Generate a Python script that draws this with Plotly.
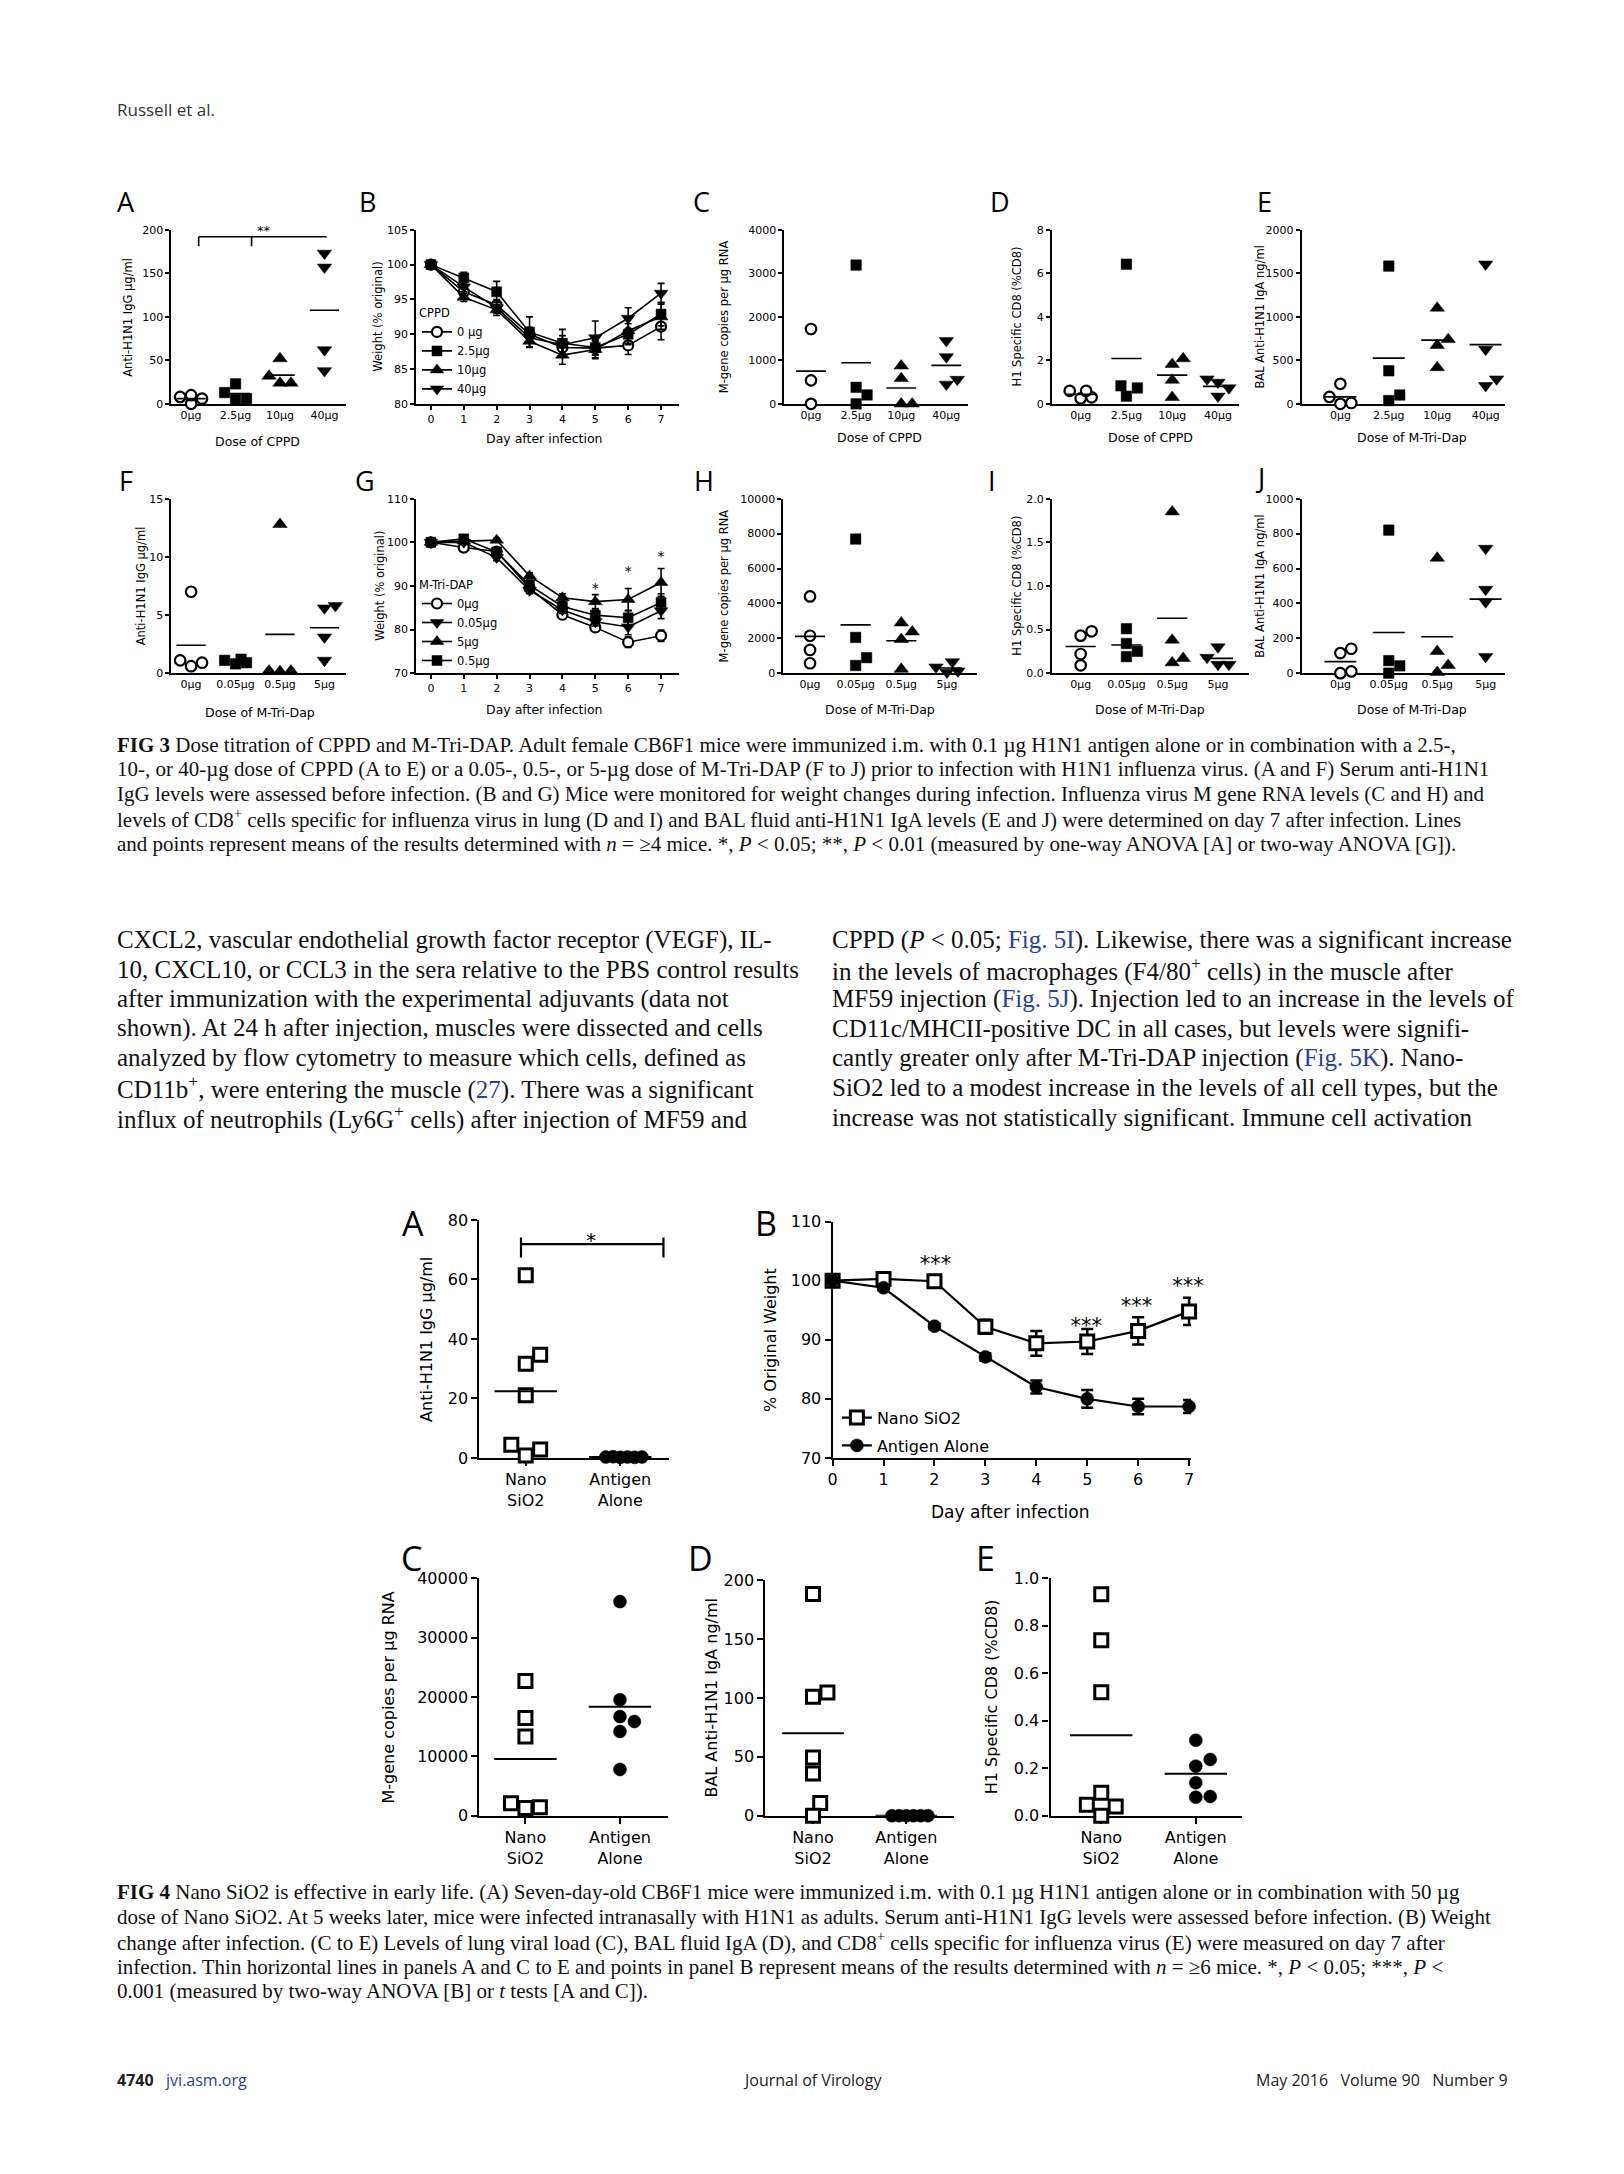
import numpy as np
import plotly.graph_objects as go

# page geometry: the browser keeps its default 8px body margin, so the figure is
# 16px smaller than the page and every page coordinate is shifted by 8px.
PAGE_W, PAGE_H = 1624, 2174
OFF = 8
W, H = PAGE_W - 2 * OFF, PAGE_H - 2 * OFF
CH = "DejaVu Sans"
SERIF = "Liberation Serif"
HS = "Open Sans"
BLUE = "#2b3f9e"

# ---------------- data ----------------
cppd_doses = ["0µg", "2.5µg", "10µg", "40µg"]
mtd_doses = ["0µg", "0.05µg", "0.5µg", "5µg"]
days = [0, 1, 2, 3, 4, 5, 6, 7]
f4_groups = ["Nano<br>SiO2", "Antigen<br>Alone"]

f3a_igg = [[6, 0, 8, 10], [13, 5, 6, 23], [52, 32, 24, 24], [157, 173, 62, 38]]
f3c_mgene = [[1720, 540, 0], [3190, 380, 205, 0], [873, 584, 0, 0], [1450, 1080, 450, 560]]
f3d_cd8 = [[0.6, 0.3, 0.25, 0.6], [6.42, 0.83, 0.73, 0.35], [1.82, 2.08, 1.09, 0.30], [0.99, 1.14, 0.73, 0.35]]
f3e_iga = [[230, 80, 0, 10], [1583, 380, 102, 38], [1101, 740, 672, 417], [1605, 626, 209, 285]]
f3f_igg = [[7.0, 1.1, 0.9, 0.6], [1.2, 0.9, 1.1, 0.8], [12.8, 0.15, 0.2, 0.2], [5.6, 5.8, 3.1, 1.1]]
f3h_mgene = [[4400, 2145, 1330, 570], [7690, 2050, 890, 440], [2370, 2885, 1940, 230], [350, 120, 650, 50]]
f3i_cd8 = [[0.48, 0.43, 0.22, 0.09], [0.51, 0.34, 0.25, 0.19], [1.85, 0.38, 0.12, 0.17], [0.30, 0.18, 0.10, 0.10]]
f3j_iga = [[140, 115, 0, 10], [820, 72, 42, 0], [660, 125, 45, 5], [715, 480, 408, 95]]

f3b_names = ["0 µg", "2.5µg", "10µg", "40µg"]
f3b_mean = [[100, 96.1, 94.2, 90.0, 88.1, 88.0, 88.4, 91.1],
            [100, 98.1, 96.1, 90.3, 88.7, 88.1, 90.0, 92.9],
            [100, 95.3, 93.5, 89.0, 87.0, 87.8, 90.5, 92.5],
            [100, 96.8, 93.8, 89.5, 88.5, 89.5, 92.3, 95.9]]
f3b_sem = [[0.2, 0.8, 0.8, 1.0, 1.2, 1.0, 1.3, 1.9],
           [0.2, 0.8, 1.5, 2.2, 2.0, 1.5, 1.5, 1.7],
           [0.2, 0.6, 0.8, 0.8, 1.3, 1.3, 1.8, 1.8],
           [0.2, 0.7, 0.8, 1.3, 1.3, 2.4, 1.5, 1.4]]

f3g_names = ["0µg", "0.05µg", "5µg", "0.5µg"]
f3g_mean = [[100, 98.8, 97.9, 89.5, 83.4, 80.5, 77.1, 78.6],
            [100, 100.0, 96.5, 89.0, 84.5, 81.8, 80.6, 84.3],
            [100, 100.3, 100.5, 92.3, 87.3, 86.4, 86.9, 90.8],
            [100, 100.8, 97.8, 90.2, 85.3, 83.3, 82.7, 86.2]]
f3g_sem = [[0.2, 0.5, 0.6, 0.8, 0.8, 0.8, 1.2, 1.3],
           [0.2, 0.5, 0.7, 0.8, 0.8, 1.0, 1.8, 1.8],
           [0.2, 0.3, 0.4, 0.7, 0.9, 1.6, 2.5, 3.2],
           [0.2, 0.6, 0.6, 0.8, 0.9, 1.2, 1.6, 2.0]]

f4a_nano = [61.4, 31.7, 34.7, 21.1, 4.4, 0.8, 2.8]
f4a_antigen = [0.3, 0.2, 0.3, 0.2, 0.4, 0.3]
f4b_names = ["Nano SiO2", "Antigen Alone"]
f4b_nano = [100, 100.3, 99.9, 92.2, 89.4, 89.7, 91.5, 94.8]
f4b_nano_sem = [0.3, 0.5, 0.6, 1.2, 2.1, 2.1, 2.3, 2.3]
f4b_antigen = [100, 98.8, 92.3, 87.1, 82.0, 80.0, 78.7, 78.7]
f4b_antigen_sem = [0.2, 0.4, 0.5, 0.6, 1.1, 1.5, 1.3, 1.1]
f4c_nano = [22730, 16490, 13370, 2117, 1281, 1448]
f4c_antigen = [36100, 19550, 15880, 16710, 14200, 7800]
f4d_nano = [188.2, 101, 104.6, 49.4, 35.9, 10.7, 0]
f4d_antigen = [0, 0, 0, 0, 0, 0]
f4e_nano = [0.933, 0.74, 0.52, 0.097, 0.046, 0.039, 0]
f4e_antigen = [0.318, 0.237, 0.209, 0.139, 0.078, 0.081]

# ---------------- helpers ----------------
fig = go.Figure()
lay = dict(width=W, height=H, margin=dict(l=0, r=0, t=0, b=0),
           paper_bgcolor="white", plot_bgcolor="rgba(0,0,0,0)", showlegend=True)
ann = []
shp = []
nax = [0]


def px(x):
    return (x - OFF) / W


def py(y):
    return 1 - (y - OFF) / H


def add_axes(x0, x1, yt, yb, xr, yr, xtv, xtt, ytv, ytt, fs, lw, tl, xticks=True):
    nax[0] += 1
    s = "" if nax[0] == 1 else str(nax[0])
    common = dict(showline=True, linecolor="black", linewidth=lw, showgrid=False,
                  zeroline=False, ticks="outside", ticklen=tl, tickwidth=lw,
                  tickcolor="black", tickfont=dict(family=CH, size=fs, color="black"),
                  fixedrange=True, layer="below traces", tickmode="array")
    xa = dict(common, domain=[px(x0), px(x1)], range=xr, anchor="y" + s,
              tickvals=xtv, ticktext=xtt)
    if not xticks:
        xa["ticks"] = ""
    lay["xaxis" + s] = xa
    lay["yaxis" + s] = dict(common, domain=[py(yb), py(yt)], range=yr,
                            anchor="x" + s, tickvals=ytv, ticktext=ytt)
    return "x" + s, "y" + s


def cat_range(axis_px, end_px, c0, c1, n):
    sp = (c1 - c0) / (n - 1)
    return [(axis_px - c0) / sp, (n - 1) + (end_px - c1) / sp], sp


def swarm(vals, center, ppu, ppc, diam, step, maxhalf):
    v = np.asarray(vals, float)
    order = np.argsort(v, kind="stable")
    cands = [0.0]
    for k in range(1, int(maxhalf // step) + 1):
        cands += [k * step, -k * step]
    placed = []
    xs = np.zeros(len(v))
    for idx in order:
        y = v[idx] * ppu
        best = None
        fb, fbd = 0.0, -1.0
        for c in cands:
            d = min([np.hypot(c - a, y - b) for a, b in placed], default=1e9)
            if d >= diam * 0.98:
                best = c
                break
            if d > fbd + 1e-9:
                fb, fbd = c, d
        if best is None:
            best = fb
        placed.append((best, y))
        xs[idx] = center + best / ppc
    return xs


def cat_scatter(xr_, yr_, groups, syms, fills, size, mlw, ppu, ppc, diam, step, maxhalf,
                mhalf, meanw):
    for i, vals in enumerate(groups):
        xs = swarm(vals, i, ppu, ppc, diam, step, maxhalf)
        sz = size * (1.2 if "triangle" in syms[i] else 1.0)
        fig.add_trace(go.Scatter(
            x=xs, y=vals, xaxis=xr_, yaxis=yr_, mode="markers",
            marker=dict(symbol=syms[i], size=sz, color=fills[i],
                        line=dict(color="black", width=mlw if fills[i] == "white" else 0.5)),
            cliponaxis=False, showlegend=False, hoverinfo="skip"))
        m = float(np.mean(vals))
        fig.add_trace(go.Scatter(
            x=[i - mhalf, i + mhalf], y=[m, m], xaxis=xr_, yaxis=yr_, mode="lines",
            line=dict(color="black", width=meanw), cliponaxis=False,
            showlegend=False, hoverinfo="skip"))


def text(x, y, s, size, family=CH, xanchor="center", yanchor="middle", angle=0,
         color="black", xref="paper", yref="paper", yshift=0):
    if xref == "paper":
        x = px(x)
    if yref == "paper":
        y = py(y)
    ann.append(dict(x=x, y=y, xref=xref, yref=yref, text=s, showarrow=False,
                    xanchor=xanchor, yanchor=yanchor, textangle=angle, yshift=yshift,
                    font=dict(family=family, size=size, color=color)))


def stars(xref, yref, xs, ys, s, size, drop_px, ppu):
    # significance marks drawn as a text trace in data coordinates
    fig.add_trace(go.Scatter(
        x=xs, y=[v - drop_px / ppu for v in ys], xaxis=xref, yaxis=yref, mode="text",
        text=[s] * len(xs), textposition="middle center",
        textfont=dict(family=CH, size=size, color="black"),
        cliponaxis=False, showlegend=False, hoverinfo="skip"))


def seg(xref, yref, x0, y0, x1, y1, w):
    shp.append(dict(type="line", xref=xref, yref=yref, x0=x0, y0=y0, x1=x1, y1=y1,
                    line=dict(color="black", width=w)))


def ticks_txt(vals, fmt="{:g}"):
    return [fmt.format(v) for v in vals]


# ---------------- FIG 3 ----------------
R1 = (222.7, 398.3)
R2 = (494.0, 670.0)
FS3 = 11
LW3 = 1.5
MS3 = 10.5
sym3 = ["circle", "square", "triangle-up", "triangle-down"]
fill3 = ["white", "black", "black", "black"]


def fig3_cat(geom, row, groups, ymax, ytv, ytt, labels):
    ax0, ax1, c0, c1 = geom
    xr, sp = cat_range(ax0, ax1, c0, c1, 4)
    xa, ya = add_axes(ax0, ax1, row[0], row[1], xr, [0, ymax], list(range(4)), labels,
                      ytv, ytt, FS3, LW3, 4, xticks=False)
    ppu = (row[1] - row[0]) / ymax
    cat_scatter(xa, ya, groups, sym3, fill3, MS3, 2.2, ppu, sp, 11, 5.5, 16.5, 0.33, 1.6)
    return xa, ya, ppu


GA = (167, 343, 187, 321)
GC = (783, 968, 810, 946)
GD = (1052, 1240, 1081, 1219)
GE = (1303, 1507, 1342, 1488)

# A
xa, ya, ppa = fig3_cat(GA, R1, f3a_igg, 200, [0, 50, 100, 150, 200],
                       ticks_txt([0, 50, 100, 150, 200]), cppd_doses)
seg(xa, ya, 0.17, 192, 3.05, 192, 1.6)
seg(xa, ya, 0.17, 192, 0.17, 181, 1.6)
seg(xa, ya, 1.36, 192, 1.36, 181, 1.6)
stars(xa, ya, [1.63], [200], "**", 13, 2, ppa)
# C
fig3_cat(GC, R1, f3c_mgene, 4000, [0, 1000, 2000, 3000, 4000],
         ticks_txt([0, 1000, 2000, 3000, 4000]), cppd_doses)
# D
fig3_cat(GD, R1, f3d_cd8, 8, [0, 2, 4, 6, 8], ticks_txt([0, 2, 4, 6, 8]), cppd_doses)
# E
fig3_cat(GE, R1, f3e_iga, 2000, [0, 500, 1000, 1500, 2000],
         ticks_txt([0, 500, 1000, 1500, 2000]), cppd_doses)
# F
fig3_cat(GA, R2, f3f_igg, 15, [0, 5, 10, 15], ticks_txt([0, 5, 10, 15]), mtd_doses)
# H
fig3_cat((782, 977, 809, 946.6), R2, f3h_mgene, 10000, [0, 2000, 4000, 6000, 8000, 10000],
         ticks_txt([0, 2000, 4000, 6000, 8000, 10000]), mtd_doses)
# I
fig3_cat((1052, 1250, 1081, 1219), R2, f3i_cd8, 2.0, [0, 0.5, 1.0, 1.5, 2.0],
         ticks_txt([0, 0.5, 1.0, 1.5, 2.0], "{:.1f}"), mtd_doses)
# J
fig3_cat(GE, R2, f3j_iga, 1000, [0, 200, 400, 600, 800, 1000],
         ticks_txt([0, 200, 400, 600, 800, 1000]), mtd_doses)


def weight_panel(row, yr, ytv, names, means, sems, syms, fills, legend):
    xr, sp = cat_range(413, 677, 428, 659.3, 8)
    xa, ya = add_axes(413, 677, row[0], row[1], xr, yr, days, [str(d) for d in days],
                      ytv, ticks_txt(ytv), FS3, LW3, 4)
    for nm, m, e, s, f in zip(names, means, sems, syms, fills):
        fig.add_trace(go.Scatter(
            x=days, y=m, xaxis=xa, yaxis=ya, mode="lines+markers", name=nm,
            legend=legend, legendgroup=legend + nm,
            error_y=dict(type="data", array=e, color="black", thickness=1.6, width=3.5),
            line=dict(color="black", width=1.6),
            marker=dict(symbol=s, size=10 * (1.2 if "triangle" in s else 1), color=f,
                        line=dict(color="black", width=2.2 if f == "white" else 0.5)),
            cliponaxis=False, hoverinfo="skip"))
    return xa, ya, (row[1] - row[0]) / (yr[1] - yr[0])


# B
weight_panel(R1, [80, 105], [80, 85, 90, 95, 100, 105], f3b_names, f3b_mean, f3b_sem,
             sym3, fill3, "legend")
# G
sym_g = ["circle", "triangle-down", "triangle-up", "square"]
fill_g = ["white", "black", "black", "black"]
xg, yg, ppg = weight_panel(R2, [70, 110], [70, 80, 90, 100, 110], f3g_names, f3g_mean,
                           f3g_sem, sym_g, fill_g, "legend2")
stars(xg, yg, [5, 6, 7], [89.9, 93.7, 97.3], "*", 14, 3, ppg)

leg3 = dict(xanchor="left", yanchor="top", bgcolor="rgba(0,0,0,0)", borderwidth=0,
            font=dict(family=CH, size=11.5, color="black"), itemwidth=30,
            tracegroupgap=0, traceorder="grouped")
lay["legend"] = dict(leg3, x=px(414), y=py(296),
                     title=dict(text="CPPD", font=dict(family=CH, size=11.5, color="black")))
lay["legend2"] = dict(leg3, x=px(414), y=py(570),
                      title=dict(text="M-Tri-DAP", font=dict(family=CH, size=11.5, color="black")))

# fig 3 letters and titles
for L, x, y in [("A", 121.5, 194), ("B", 364.7, 194), ("C", 699.6, 194), ("D", 1000, 194),
                ("E", 1266, 194), ("F", 121.5, 476), ("G", 362, 476), ("H", 702.4, 476),
                ("I", 991.4, 476), ("J", 1261, 473)]:
    text(x, y, L, 27, family=HS)

r1m = (R1[0] + R1[1]) / 2
r2m = (R2[0] + R2[1]) / 2
for s, x, y in [("Anti-H1N1 IgG µg/ml", 123.5, r1m), ("Weight (% original)", 374.6, r1m),
                ("M-gene copies per µg RNA", 722, r1m), ("H1 Specific CD8 (%CD8)", 1016.7, r1m),
                ("BAL Anti-H1N1 IgA ng/ml", 1261, r1m),
                ("Anti-H1N1 IgG µg/ml", 137, r2m), ("Weight (% original)", 376.6, r2m),
                ("M-gene copies per µg RNA", 722, r2m), ("H1 Specific CD8 (%CD8)", 1016.7, r2m),
                ("BAL Anti-H1N1 IgA ng/ml", 1261, r2m)]:
    text(x, y, s, 11.5, angle=-90)

for s, x, y in [("Dose of CPPD", 254, 436.7), ("Day after infection", 542.6, 433.3),
                ("Dose of CPPD", 879, 432.3), ("Dose of CPPD", 1151, 432.3),
                ("Dose of M-Tri-Dap", 1414, 432.3),
                ("Dose of M-Tri-Dap", 256, 709.3), ("Day after infection", 542.6, 706.7),
                ("Dose of M-Tri-Dap", 879, 706.7), ("Dose of M-Tri-Dap", 1151, 706.7),
                ("Dose of M-Tri-Dap", 1414, 706.7)]:
    text(x, y, s, 12.5)

# ---------------- FIG 4 ----------------
FS4 = 16
LW4 = 2.2
sym4 = ["square", "circle"]
fill4 = ["white", "black"]


def fig4_cat(geom, yt, yb, groups, ymax, ytv, ytt):
    ax0, ax1, c0, c1 = geom
    xr, sp = cat_range(ax0, ax1, c0, c1, 2)
    xa, ya = add_axes(ax0, ax1, yt, yb, xr, [0, ymax], [0, 1], f4_groups, ytv, ytt,
                      FS4, LW4, 6)
    ppu = (yb - yt) / ymax
    cat_scatter(xa, ya, groups, sym4, fill4, 13, 3, ppu, sp, 14.5, 7.25, 22, 0.33, 2)
    return xa, ya, ppu


# A
xa4, ya4, pp4a = fig4_cat((476.7, 667, 523.3, 618.3), 1221.7, 1461.7,
                          [f4a_nano, f4a_antigen], 80,
                          [0, 20, 40, 60, 80], ticks_txt([0, 20, 40, 60, 80]))
seg(xa4, ya4, -0.05, 71.9, 1.457, 71.9, 2.2)
seg(xa4, ya4, -0.05, 74.1, -0.05, 67.4, 2.2)
seg(xa4, ya4, 1.457, 74.1, 1.457, 67.4, 2.2)
stars(xa4, ya4, [0.69], [74.3], "*", 20, 5, pp4a)

# B
xb, yb_ = add_axes(831.7, 1192, 1223.3, 1461.7, [0, 7.04], [70, 110], days,
                   [str(d) for d in days], [70, 80, 90, 100, 110],
                   ticks_txt([70, 80, 90, 100, 110]), FS4, LW4, 6)
for nm, m, e, s, f in [(f4b_names[0], f4b_nano, f4b_nano_sem, "square", "white"),
                       (f4b_names[1], f4b_antigen, f4b_antigen_sem, "circle", "black")]:
    fig.add_trace(go.Scatter(
        x=days, y=m, xaxis=xb, yaxis=yb_, mode="lines+markers", name=nm,
        legend="legend3", legendgroup="l3" + nm,
        error_y=dict(type="data", array=e, color="black", thickness=2.5, width=6),
        line=dict(color="black", width=2.2),
        marker=dict(symbol=s, size=13, color=f,
                    line=dict(color="black", width=3 if f == "white" else 0.5)),
        cliponaxis=False, hoverinfo="skip"))
stars(xb, yb_, [2.02, 4.98, 5.97, 6.98], [103.4, 92.8, 96.2, 99.65], "***", 21, 5,
      (1461.7 - 1223.3) / 40)
lay["legend3"] = dict(xanchor="left", yanchor="top", bgcolor="rgba(0,0,0,0)", borderwidth=0,
                      font=dict(family=CH, size=16, color="black"), itemwidth=30,
                      tracegroupgap=4, traceorder="grouped", x=px(836), y=py(1404))

# C
fig4_cat((476.7, 666.6, 523, 618), 1583.3, 1822.7, [f4c_nano, f4c_antigen], 40000,
         [0, 10000, 20000, 30000, 40000], ticks_txt([0, 10000, 20000, 30000, 40000]))
# D
xd, yd, pp4d = fig4_cat((764.2, 953.6, 812, 905.8), 1585, 1822.7, [f4d_nano, f4d_antigen], 200,
                        [0, 50, 100, 150, 200], ticks_txt([0, 50, 100, 150, 200]))
seg(xd, yd, 0.01, 209, 1.10, 209, 2.2)
seg(xd, yd, 0.01, 216.8, 0.01, 200, 2.2)
seg(xd, yd, 1.10, 216.8, 1.10, 200, 2.2)
stars(xd, yd, [0.54], [211.5], "*", 20, 5, pp4d)
# E
fig4_cat((1050.7, 1243.3, 1101.7, 1196.7), 1583.3, 1822.7, [f4e_nano, f4e_antigen], 1.0,
         [0, 0.2, 0.4, 0.6, 0.8, 1.0], ticks_txt([0, 0.2, 0.4, 0.6, 0.8, 1.0], "{:.1f}"))

for L, x, y in [("A", 410, 1225), ("B", 765, 1225), ("C", 408.3, 1563), ("D", 699, 1563),
                ("E", 985, 1563)]:
    text(x, y, L, 34, family=HS)
for s, x, y in [("Anti-H1N1 IgG µg/ml", 424, 1341.7), ("% Original Weight", 770, 1342.5),
                ("M-gene copies per µg RNA", 385.3, 1703), ("BAL Anti-H1N1 IgA ng/ml", 710, 1704),
                ("H1 Specific CD8 (%CD8)", 991, 1703)]:
    text(x, y, s, 16, angle=-90)
text(1010, 1516.7, "Day after infection", 17)

# ---------------- page text ----------------
text(111, 101, "Russell et al.", 17, family=HS, xanchor="left", color="#333")

cap3 = [
    "<b>FIG 3</b> Dose titration of CPPD and M-Tri-DAP. Adult female CB6F1 mice were immunized i.m. with 0.1 µg H1N1 antigen alone or in combination with a 2.5-,",
    "10-, or 40-µg dose of CPPD (A to E) or a 0.05-, 0.5-, or 5-µg dose of M-Tri-DAP (F to J) prior to infection with H1N1 influenza virus. (A and F) Serum anti-H1N1",
    "IgG levels were assessed before infection. (B and G) Mice were monitored for weight changes during infection. Influenza virus M gene RNA levels (C and H) and",
    "levels of CD8<sup>+</sup> cells specific for influenza virus in lung (D and I) and BAL fluid anti-H1N1 IgA levels (E and J) were determined on day 7 after infection. Lines",
    "and points represent means of the results determined with <i>n</i> = ≥4 mice. *, <i>P</i> &lt; 0.05; **, <i>P</i> &lt; 0.01 (measured by one-way ANOVA [A] or two-way ANOVA [G]).",
]
for k, s in enumerate(cap3):
    text(111, 742 + 25 * k, s, 21, family=SERIF, xanchor="left", color="#111")


def bl(s):
    return "<span style='color:%s'>%s</span>" % (BLUE, s)


body_l = [
    "CXCL2, vascular endothelial growth factor receptor (VEGF), IL-",
    "10, CXCL10, or CCL3 in the sera relative to the PBS control results",
    "after immunization with the experimental adjuvants (data not",
    "shown). At 24 h after injection, muscles were dissected and cells",
    "analyzed by flow cytometry to measure which cells, defined as",
    "CD11b<sup>+</sup>, were entering the muscle (" + bl("27") + "). There was a significant",
    "influx of neutrophils (Ly6G<sup>+</sup> cells) after injection of MF59 and",
]
body_r = [
    "CPPD (<i>P</i> &lt; 0.05; " + bl("Fig. 5I") + "). Likewise, there was a significant increase",
    "in the levels of macrophages (F4/80<sup>+</sup> cells) in the muscle after",
    "MF59 injection (" + bl("Fig. 5J") + "). Injection led to an increase in the levels of",
    "CD11c/MHCII-positive DC in all cases, but levels were signifi-",
    "cantly greater only after M-Tri-DAP injection (" + bl("Fig. 5K") + "). Nano-",
    "SiO2 led to a modest increase in the levels of all cell types, but the",
    "increase was not statistically significant. Immune cell activation",
]
for k, s in enumerate(body_l):
    text(111, 939 + 29.8 * k, s, 25, family=SERIF, xanchor="left", color="#111")
for k, s in enumerate(body_r):
    text(829.5, 939 + 29.8 * k, s, 25, family=SERIF, xanchor="left", color="#111")

cap4 = [
    "<b>FIG 4</b> Nano SiO2 is effective in early life. (A) Seven-day-old CB6F1 mice were immunized i.m. with 0.1 µg H1N1 antigen alone or in combination with 50 µg",
    "dose of Nano SiO2. At 5 weeks later, mice were infected intranasally with H1N1 as adults. Serum anti-H1N1 IgG levels were assessed before infection. (B) Weight",
    "change after infection. (C to E) Levels of lung viral load (C), BAL fluid IgA (D), and CD8<sup>+</sup> cells specific for influenza virus (E) were measured on day 7 after",
    "infection. Thin horizontal lines in panels A and C to E and points in panel B represent means of the results determined with <i>n</i> = ≥6 mice. *, <i>P</i> &lt; 0.05; ***, <i>P</i> &lt;",
    "0.001 (measured by two-way ANOVA [B] or <i>t</i> tests [A and C]).",
]
for k, s in enumerate(cap4):
    text(111, 1900 + 25 * k, s, 21, family=SERIF, xanchor="left", color="#111")

text(111, 2089, "<b>4740</b>   " + bl("jvi.asm.org"), 16, family=HS, xanchor="left", color="#222")
text(811, 2089, "Journal of Virology", 16, family=HS, color="#222")
text(1512, 2089, "May 2016   Volume 90   Number 9", 16, family=HS, xanchor="right", color="#222")

lay["annotations"] = ann
lay["shapes"] = shp
fig.update_layout(**lay)
fig.write_html("out.html", config={"displayModeBar": False})
